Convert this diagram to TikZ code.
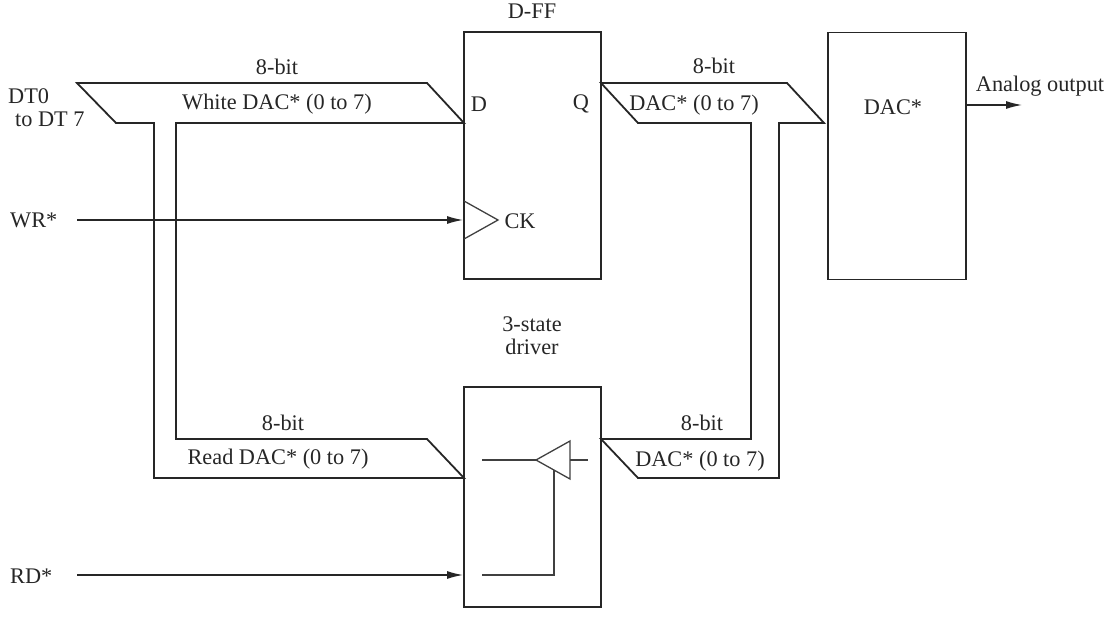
\documentclass[tikz,border=0pt]{standalone}
\usepackage{fontspec}
\setmainfont{Liberation Serif}
\usetikzlibrary{arrows.meta}
\tikzset{
  blockbox/.style={draw=black!85,line width=1.6pt,fill=none,inner sep=0pt},
  busline/.style={draw=black!85,line width=1.8pt,line join=miter,miter limit=20},
  sigline/.style={draw=black!85,line width=1.3pt},
  sigarrow/.style={sigline,-{Latex[length=16pt,width=8pt]}},
  thinline/.style={draw=black!75,line width=1.3pt,line join=miter},
  lbl/.style={font=\fontsize{22.3}{24}\selectfont,text=black!85,inner sep=0pt,anchor=center},
  lbll/.style={lbl,anchor=west}
}
\begin{document}
\begin{tikzpicture}[x=1pt,y=-1pt]
\useasboundingbox (0,0) rectangle (1119,639);
% blocks
\node[blockbox,minimum width=137pt,minimum height=247pt] (dff) at (532.5,155.5) {};
\node[blockbox,minimum width=137pt,minimum height=220pt] (drv) at (532.5,497) {};
\node[blockbox,minimum width=138pt,minimum height=247pt] (dac) at (897,156) {};
% bus corner points
\coordinate (a1) at (77,83);
\coordinate (a2) at (427,83);
\coordinate (a3) at (464,123);
\coordinate (a4) at (176,123);
\coordinate (a5) at (176,439);
\coordinate (a6) at (427,439);
\coordinate (a7) at (464,478);
\coordinate (a8) at (154,478);
\coordinate (a9) at (154,123);
\coordinate (a10) at (116,123);
\coordinate (b1) at (601,83);
\coordinate (b2) at (787,83);
\coordinate (b3) at (824,123);
\coordinate (b4) at (779,123);
\coordinate (b5) at (779,478);
\coordinate (b6) at (638,478);
\coordinate (b7) at (601,439);
\coordinate (b8) at (751,439);
\coordinate (b9) at (751,123);
\coordinate (b10) at (638,123);
\draw[busline] (a1) -- (a2) -- (a3) -- (a4) -- (a5) -- (a6) -- (a7) -- (a8) -- (a9) -- (a10) -- cycle;
\draw[busline] (b1) -- (b2) -- (b3) -- (b4) -- (b5) -- (b6) -- (b7) -- (b8) -- (b9) -- (b10) -- cycle;
% signals
\coordinate (wr) at (77,220);
\coordinate (wrend) at (463,220);
\coordinate (rd) at (77,575);
\coordinate (rdend) at (463,575);
\coordinate (ao) at (966,105);
\coordinate (aoend) at (1022,105);
\draw[sigarrow] (wr) -- (wrend);
\draw[sigarrow] (rd) -- (rdend);
\draw[sigarrow] (ao) -- (aoend);
% clock triangle
\coordinate (ck1) at (464,201);
\coordinate (ck2) at (498,220);
\coordinate (ck3) at (464,239);
\draw[thinline] (ck1) -- (ck2) -- (ck3);
% driver
\coordinate (t1) at (536,460);
\coordinate (t2) at (570,441);
\coordinate (t3) at (570,479);
\coordinate (in) at (588,460);
\coordinate (out) at (482,460);
\coordinate (tin) at (570,460);
\coordinate (en) at (482,575);
\coordinate (en2) at (554,575);
\coordinate (en3) at (554,470);
\draw[thinline] (t1) -- (t2) -- (t3) -- cycle;
\draw[thinline] (out) -- (t1);
\draw[thinline] (tin) -- (in);
\draw[thinline] (en) -- (en2) -- (en3);
% text
\node[lbl] (tff) at (532,11) {D-FF};
\node[lbl] (t8a) at (277,67) {8-bit};
\node[lbl] (twd) at (277,104.5) {White DAC* (0 to 7)};
\node[lbl] (td) at (479,104) {D};
\node[lbl] (tq) at (581,104) {Q};
\node[lbl] (tck) at (520,221) {CK};
\node[lbl] (t8b) at (714,66) {8-bit};
\node[lbl] (tdb) at (694,105) {DAC* (0 to 7)};
\node[lbl] (tdac) at (893,107) {DAC*};
\node[lbl] (tao) at (1040,86) {Analog output};
\node[lbll] (tdt0) at (8,96) {DT0};
\node[lbll] (tdt7) at (15,119) {to DT 7};
\node[lbll] (twr) at (10,220) {WR*};
\node[lbll] (trd) at (10,576) {RD*};
\node[lbl] (t3s) at (532,324) {3-state};
\node[lbl] (tdrv) at (532,347) {driver};
\node[lbl] (t8c) at (283,423) {8-bit};
\node[lbl] (trdd) at (278,459.5) {Read DAC* (0 to 7)};
\node[lbl] (t8d) at (702,423) {8-bit};
\node[lbl] (tdl) at (700,461) {DAC* (0 to 7)};
\end{tikzpicture}
\end{document}
